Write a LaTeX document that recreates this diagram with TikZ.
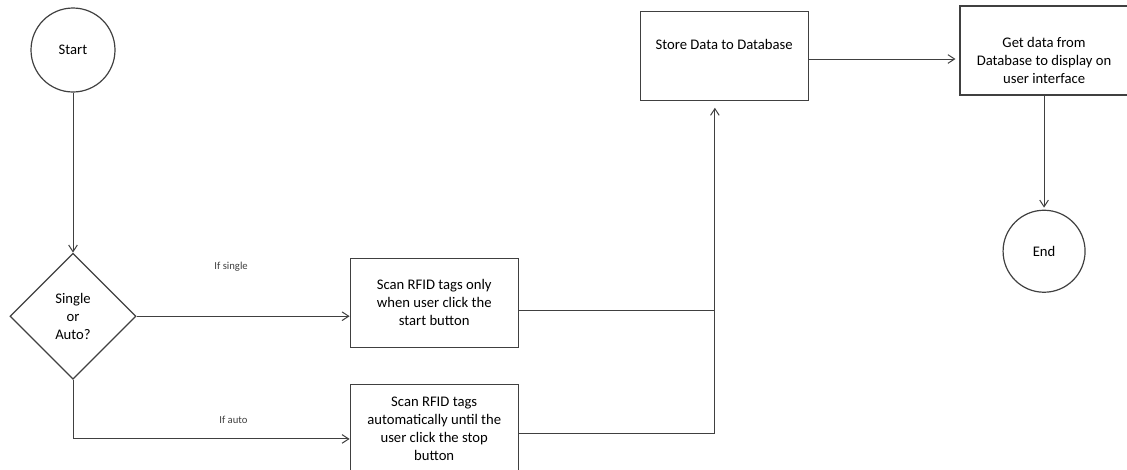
\documentclass[tikz,border=0pt]{standalone}
\usepackage{fontspec}
\setmainfont{Carlito}
\usetikzlibrary{arrows.meta,positioning,shapes.geometric}
\definecolor{edge}{HTML}{404040}

\begin{document}
\begin{tikzpicture}[
    font=\fontsize{11}{13.5}\selectfont,
    >={Straight Barb[length=5pt,width=6.5pt]},
    terminal/.style={draw=edge, circle, line width=0.9pt, minimum size=63pt, inner sep=0pt},
    decision/.style={draw=edge, diamond, line width=0.9pt, minimum width=94.5pt, minimum height=94.5pt, inner sep=0pt, align=center},
    block/.style={draw=edge, rectangle, line width=0.9pt, minimum width=126pt, minimum height=66.75pt, align=center, inner sep=1mm},
    line/.style={->, edge, line width=0.75pt},
    joinline/.style={edge, line width=0.75pt},
    note/.style={font=\fontsize{8}{9.6}\selectfont}
]

\useasboundingbox (0,0) rectangle (845.25pt,-351.75pt);

% Start and the mode choice (left column)
\node[terminal] (start) at (54.75pt,-37.5pt) {Start};
\node[decision, below=120pt of start] (mode) {Single\\or\\Auto?};

% Scanning modes (middle column)
\node[block, right=159.75pt of mode, yshift=10.1pt] (scansingle) {Scan RFID tags only\\when user click the\\start button};
\node[block, below=27pt of scansingle] (scanauto) {Scan RFID tags\\automatically until the\\user click the stop\\button};

% Database and display (top right)
\node[block, right=393pt of start, yshift=-4.5pt] (store) {Store Data to Database\\\strut};
\node[block, right=113pt of store, yshift=4.1pt] (fetch) {\strut\\Get data from\\Database to display on\\user interface};
\node[terminal, minimum size=61.5pt, below=85.5pt of fetch] (finish) {End};

% both scan paths meet here before going up
\coordinate (merge) at ([xshift=-7pt]store.south);

% Start -> choice -> scan modes
\draw[line] (start) -- (mode);
\draw[line] (mode.east) -- node[note, midway, above=30pt, xshift=-9pt] {If single} (mode.east -| scansingle.west);
\draw[line] (mode.south) |- node[note, pos=0.79, above=7.75pt] {If auto} ([yshift=-7.5pt]scanauto.west);

% Scan modes -> store
\draw[joinline] ([yshift=-5.6pt]scansingle.east) -- ([yshift=-5.6pt]scansingle.east -| merge);
\draw[line, shorten >=5pt] ([yshift=-3.75pt]scanauto.east) -| (merge);

% Store -> display -> end
\draw[line, shorten >=3pt] ([yshift=-2.25pt]store.east) -- ([yshift=-2.25pt]store.east -| fetch.west);
\draw[line, shorten >=1.5pt] (fetch) -- (finish);

\end{tikzpicture}
\end{document}
